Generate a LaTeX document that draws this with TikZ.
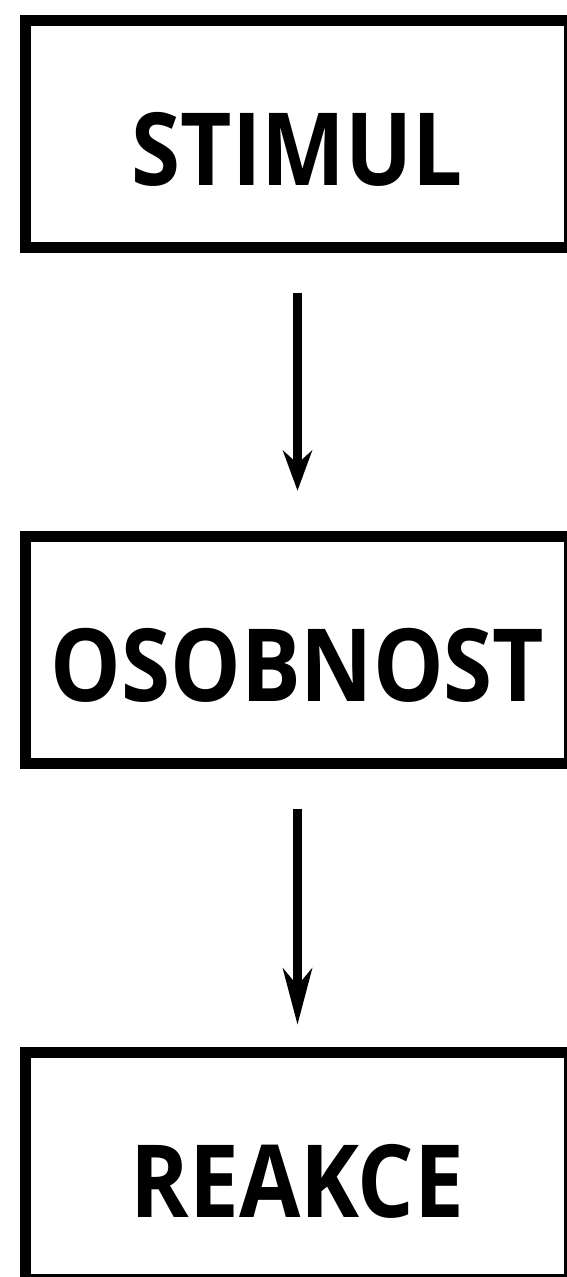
\documentclass[tikz,border=0pt]{standalone}
\usepackage{fontspec}
\setmainfont{Open Sans}[FakeStretch=0.88]
\usepackage{tikz}
\usetikzlibrary{positioning, arrows.meta}

\begin{document}
\begin{tikzpicture}[
    stagebox/.style={rectangle, draw=black, line width=11pt, minimum width=544pt, minimum height=227pt, text height=104pt, text depth=0pt, align=center, font=\fontsize{101pt}{101pt}\selectfont\bfseries},
    arrow/.style={-{Stealth[length=40pt, width=29pt, inset=13pt]}, line width=8.7pt}
]
\useasboundingbox (0,0) rectangle (567pt,-1277pt);

\node[stagebox] (stimul) at (297.5pt,-133.7pt) {STIMUL};
\node[stagebox, below=278pt of stimul] (osobnost) {OSOBNOST};
\node[stagebox, below=278pt of osobnost] (reakce) {REAKCE};

\draw[arrow, shorten <=40pt, shorten >=40pt] (stimul) -- (osobnost);
\draw[arrow, -{Stealth[length=56pt, width=29pt, inset=17pt]}, shorten <=40pt, shorten >=22pt] (osobnost) -- (reakce);

\end{tikzpicture}
\end{document}
